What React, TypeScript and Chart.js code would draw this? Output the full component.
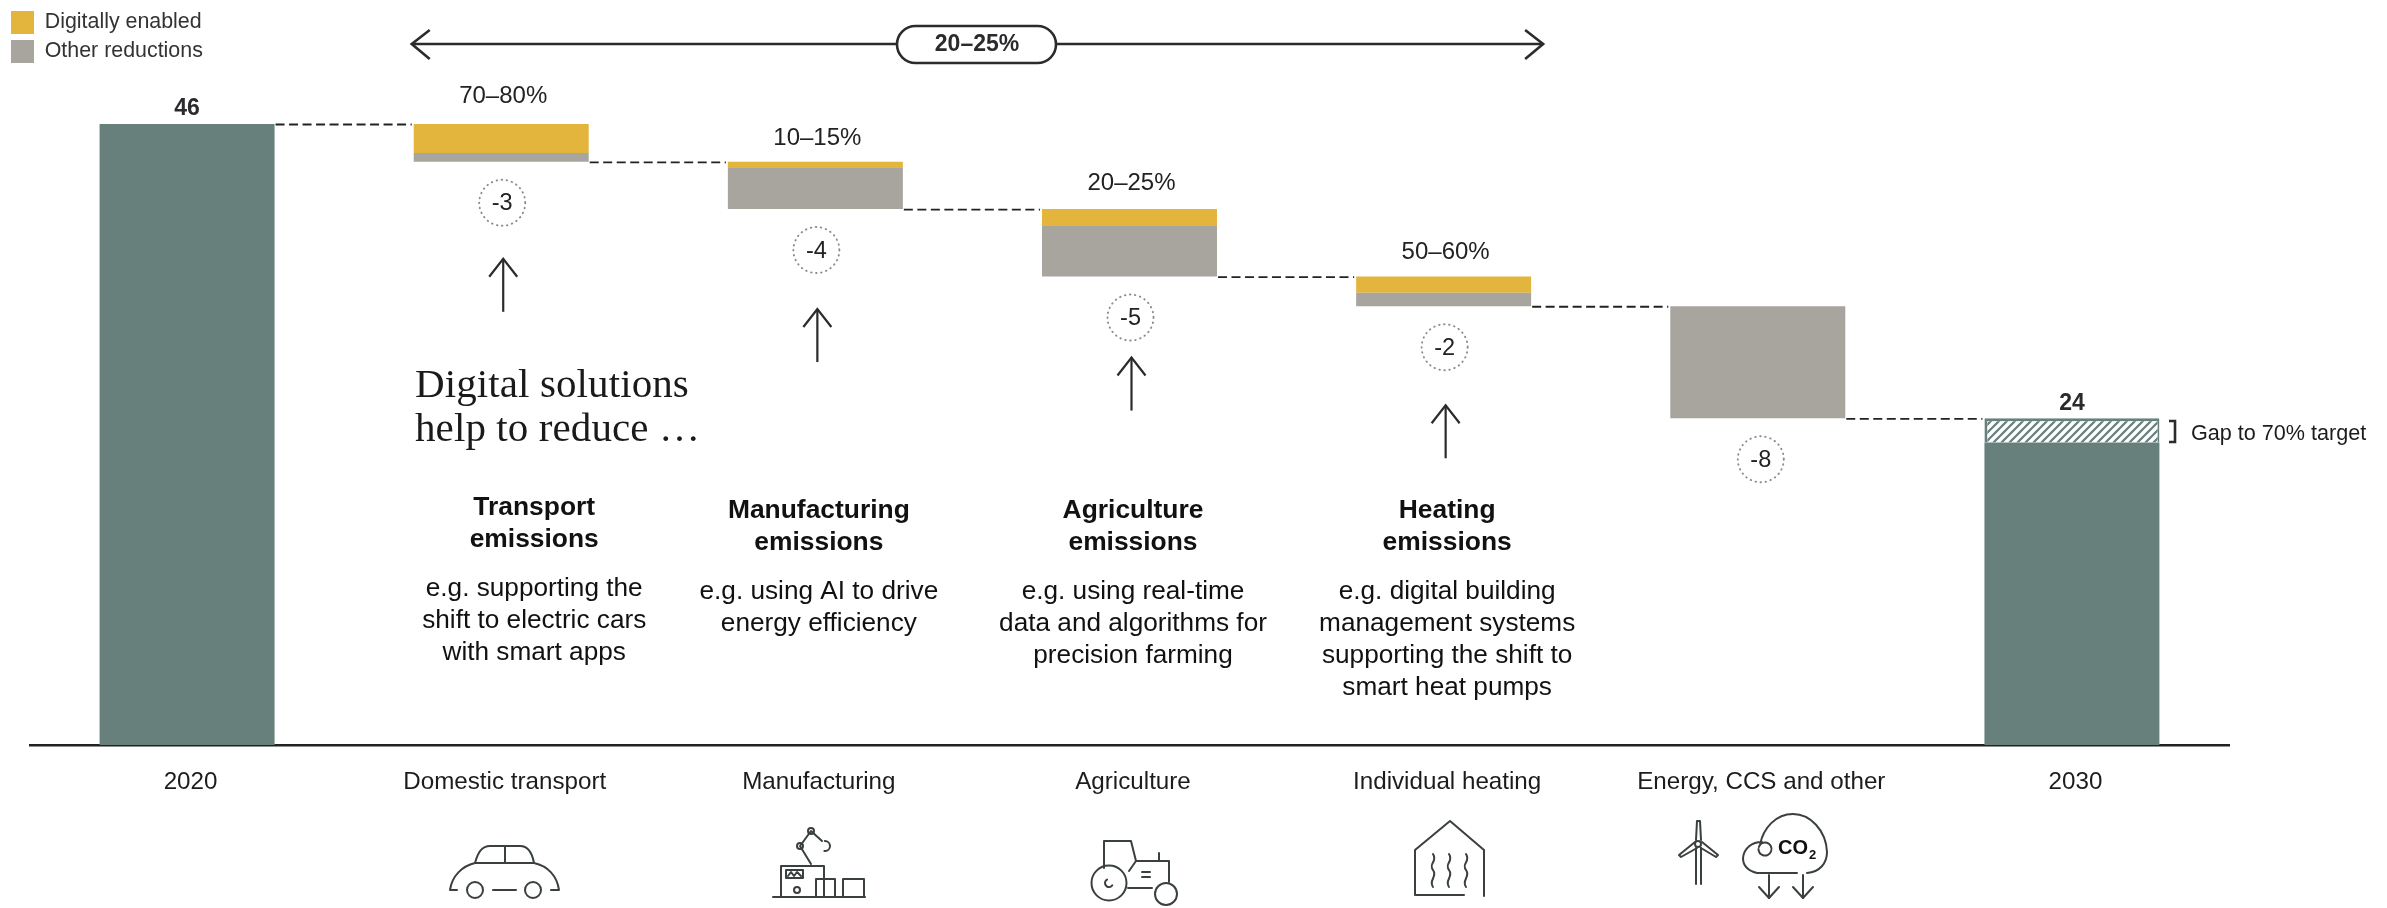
import React, { useEffect, useRef } from "react";
import { Chart, registerables } from "chart.js";

Chart.register(...registerables);

const categories = ["2020", "Domestic transport", "Manufacturing", "Agriculture", "Individual heating", "Energy, CCS and other", "2030"];
const totalValues = [46, null, null, null, null, null, 22.4];
const gapValues = [null, null, null, null, null, null, 1.8];
const baseValues = [null, 43.2, 39.7, 34.7, 32.5, 24.2, null];
const otherValues = [null, 0.65, 3.1, 3.8, 1.0, 8.3, null];
const digitalValues = [null, 2.15, 0.4, 1.2, 1.2, null, null];
const endLabels = ["46", "", "", "", "", "", "24"];
const shareLabels = ["", "70–80%", "10–15%", "20–25%", "50–60%", "", ""];
const deltaLabels = ["", "-3", "-4", "-5", "-2", "-8", ""];
const sectorTitles = [
  ["Transport", "emissions"],
  ["Manufacturing", "emissions"],
  ["Agriculture", "emissions"],
  ["Heating", "emissions"],
];
const sectorBodies = [
  ["e.g. supporting the", "shift to electric cars", "with smart apps"],
  ["e.g. using AI to drive", "energy efficiency"],
  ["e.g. using real-time", "data and algorithms for", "precision farming"],
  ["e.g. digital building", "management systems", "supporting the shift to", "smart heat pumps"],
];
const rangeLabel = "20–25%";
const gapLabel = "Gap to 70% target";
const introLines = ["Digital solutions", "help to reduce …"];

const TEAL = "#67807c";
const YELLOW = "#e4b53c";
const GREY = "#a8a59f";
const INK = "#2b2b2e";
const SANS = '"Liberation Sans", Arial, sans-serif';
const SERIF = '"Liberation Serif", serif';
const shareLift = [0, 28, 23, 26, 24, 0, 0];
const arrowDrop = [0, 97, 100, 81, 99, 0, 0];

function makeHatch() {
  const c = document.createElement("canvas");
  c.width = 8;
  c.height = 8;
  const g = c.getContext("2d")!;
  g.fillStyle = TEAL;
  g.fillRect(0, 0, 8, 8);
  g.strokeStyle = "#ffffff";
  g.lineWidth = 3.4;
  g.beginPath();
  g.moveTo(-2, 10);
  g.lineTo(10, -2);
  g.moveTo(-6, 6);
  g.lineTo(6, -6);
  g.moveTo(2, 14);
  g.lineTo(14, 2);
  g.stroke();
  return g.createPattern(c, "repeat")!;
}

function text(ctx: CanvasRenderingContext2D, s: string, x: number, y: number, font: string, align: CanvasTextAlign = "center", color = "#1c1c1e") {
  ctx.font = font;
  ctx.textAlign = align;
  ctx.textBaseline = "middle";
  ctx.fillStyle = color;
  ctx.fillText(s, x, y);
}

function line(ctx: CanvasRenderingContext2D, pts: number[][]) {
  ctx.beginPath();
  pts.forEach((p, i) => (i ? ctx.lineTo(p[0], p[1]) : ctx.moveTo(p[0], p[1])));
  ctx.stroke();
}

function circle(ctx: CanvasRenderingContext2D, x: number, y: number, r: number) {
  ctx.beginPath();
  ctx.arc(x, y, r, 0, Math.PI * 2);
  ctx.stroke();
}

function upArrow(ctx: CanvasRenderingContext2D, x: number, top: number, bottom: number) {
  ctx.strokeStyle = INK;
  ctx.lineWidth = 2.2;
  line(ctx, [[x, top], [x, bottom]]);
  line(ctx, [[x - 14, top + 18], [x, top], [x + 14, top + 18]]);
}

function drawIcons(ctx: CanvasRenderingContext2D) {
  ctx.save();
  ctx.strokeStyle = "#3a3f40";
  ctx.lineWidth = 2;
  ctx.lineCap = "round";
  ctx.lineJoin = "round";

  // car
  circle(ctx, 475, 890, 8);
  circle(ctx, 533, 890, 8);
  line(ctx, [[493, 890], [516, 890]]);
  line(ctx, [[505, 846], [505, 863]]);
  ctx.beginPath();
  ctx.moveTo(457, 890);
  ctx.lineTo(450, 890);
  ctx.bezierCurveTo(452, 876, 462, 866, 475, 863);
  ctx.lineTo(534, 863);
  ctx.bezierCurveTo(548, 866, 557, 876, 559, 890);
  ctx.lineTo(551, 890);
  ctx.moveTo(475, 863);
  ctx.bezierCurveTo(478, 852, 482, 846, 490, 846);
  ctx.lineTo(520, 846);
  ctx.bezierCurveTo(528, 846, 532, 852, 534, 863);
  ctx.stroke();

  // robot
  line(ctx, [[773, 897], [865, 897]]);
  line(ctx, [[781, 897], [781, 866], [824, 866], [824, 897]]);
  ctx.strokeRect(786, 870, 17, 8);
  line(ctx, [[788, 876], [791, 872], [794, 876], [797, 872], [801, 876]]);
  circle(ctx, 797, 890, 3);
  ctx.strokeRect(816, 879, 19, 18);
  ctx.strokeRect(843, 879, 21, 18);
  line(ctx, [[811, 864], [800, 846], [811, 831], [822, 841]]);
  circle(ctx, 800, 846, 3);
  circle(ctx, 811, 831, 3);
  ctx.beginPath();
  ctx.arc(825, 846, 5, -1.6, 1.7);
  ctx.stroke();

  // tractor
  circle(ctx, 1109, 883, 17.5);
  circle(ctx, 1166, 894, 11);
  ctx.beginPath();
  ctx.arc(1109, 883, 4, 0.6, 4.2);
  ctx.stroke();
  line(ctx, [[1104, 868], [1104, 841], [1131, 841], [1136, 861], [1169, 861], [1169, 882]]);
  line(ctx, [[1136, 861], [1129, 871]]);
  line(ctx, [[1159, 853], [1159, 861]]);
  line(ctx, [[1128, 888], [1152, 888]]);
  line(ctx, [[1142, 872], [1150, 872]]);
  line(ctx, [[1142, 877], [1150, 877]]);

  // house
  line(ctx, [[1464, 895], [1415, 895], [1415, 850], [1450, 821], [1484, 850], [1484, 896]]);
  [1433, 1449, 1466].forEach((x) => {
    ctx.beginPath();
    ctx.moveTo(x, 854);
    ctx.bezierCurveTo(x + 5, 862, x - 5, 863, x, 870);
    ctx.bezierCurveTo(x + 5, 877, x - 5, 880, x, 887);
    ctx.stroke();
  });

  // turbine
  line(ctx, [[1696, 848], [1696, 884]]);
  line(ctx, [[1701, 848], [1701, 884]]);
  line(ctx, [[1696, 840], [1697, 821], [1700, 821], [1701, 840]]);
  line(ctx, [[1695, 842], [1679, 855], [1681, 857], [1697, 848]]);
  line(ctx, [[1702, 842], [1718, 855], [1716, 857], [1701, 848]]);
  circle(ctx, 1698, 844, 3);

  // cloud
  ctx.beginPath();
  ctx.moveTo(1807, 873);
  ctx.bezierCurveTo(1820, 872, 1827, 863, 1827, 852);
  ctx.bezierCurveTo(1826, 830, 1810, 814, 1793, 814);
  ctx.bezierCurveTo(1776, 814, 1763, 828, 1760, 845);
  ctx.arc(1765, 849, 6.5, Math.PI * 1.1, Math.PI * 3.0);
  ctx.moveTo(1797, 873);
  ctx.lineTo(1757, 873);
  ctx.bezierCurveTo(1749, 871, 1743, 866, 1743, 858);
  ctx.bezierCurveTo(1744, 848, 1752, 842, 1762, 842);
  ctx.stroke();
  [1769, 1803].forEach((x) => {
    line(ctx, [[x, 875], [x, 898]]);
    line(ctx, [[x - 10, 887], [x, 898], [x + 10, 887]]);
  });
  text(ctx, "CO", 1778, 848, `bold 20px ${SANS}`, "left", "#111");
  text(ctx, "2", 1809, 855, `bold 13px ${SANS}`, "left", "#111");
  ctx.restore();
}

const annotations = {
  id: "annotations",
  afterLayout(chart: any) {
    chart.legend.left = 5;
    chart.legend.top = 5;
    chart.legend.right = 240;
  },
  afterDraw(chart: any) {
    const ctx: CanvasRenderingContext2D = chart.ctx;
    const { x: xs, y: ys } = chart.scales;
    const bars = chart.getDatasetMeta(0).data;
    const barW = bars[0].width;
    const cx = (i: number) => xs.getPixelForValue(i);
    const tops = categories.map((_, i) => (baseValues[i] ?? 0) + (otherValues[i] ?? 0) + (digitalValues[i] ?? 0) + (totalValues[i] ?? 0) + (gapValues[i] ?? 0));
    const bottoms = categories.map((_, i) => baseValues[i] ?? 0);

    ctx.save();
    // connectors
    ctx.strokeStyle = "#222";
    ctx.lineWidth = 1.8;
    ctx.setLineDash([9, 4.5]);
    for (let i = 0; i < categories.length - 1; i++) {
      const level = ys.getPixelForValue(tops[i + 1]) + 0.5;
      line(ctx, [[cx(i) + barW / 2 + 1, level], [cx(i + 1) - barW / 2 - 2, level]]);
    }
    ctx.setLineDash([]);

    // end values, shares and deltas
    categories.forEach((_, i) => {
      if (endLabels[i]) text(ctx, endLabels[i], cx(i), ys.getPixelForValue(tops[i]) - 15, `bold 23px ${SANS}`, "center", INK);
      if (shareLabels[i]) text(ctx, shareLabels[i], cx(i) + 2, ys.getPixelForValue(tops[i]) - shareLift[i], `24px ${SANS}`, "center", "#222");
      if (deltaLabels[i]) {
        const y = ys.getPixelForValue(bottoms[i]) + 41;
        const dx = i === 5 ? 3 : 1;
        ctx.strokeStyle = "#8c8c8c";
        ctx.lineWidth = 1.9;
        ctx.lineCap = "round";
        ctx.setLineDash([0.5, 4.6]);
        circle(ctx, cx(i) + dx, y, 23);
        ctx.setLineDash([]);
        ctx.lineCap = "butt";
        text(ctx, deltaLabels[i], cx(i) + dx, y + 1, `23.5px ${SANS}`, "center", "#222");
      }
    });

    // up arrows
    [1, 2, 3, 4].forEach((i) => {
      const top = ys.getPixelForValue(bottoms[i]) + arrowDrop[i];
      upArrow(ctx, cx(i) + 2, top, top + 53);
    });

    // range arrow and pill
    ctx.strokeStyle = INK;
    ctx.lineWidth = 2.6;
    const rangeL = cx(1) - barW / 2 - 2;
    const rangeR = cx(4) + barW / 2 + 12;
    line(ctx, [[rangeL, 44], [rangeR, 44]]);
    line(ctx, [[rangeL + 18, 30], [rangeL, 44], [rangeL + 18, 59]]);
    line(ctx, [[rangeR - 18, 30], [rangeR, 44], [rangeR - 18, 59]]);
    ctx.beginPath();
    ctx.roundRect(897, 26, 159, 37, 18.5);
    ctx.fillStyle = "#fff";
    ctx.fill();
    ctx.stroke();
    text(ctx, rangeLabel, 977, 45, `bold 23px ${SANS}`, "center", INK);

    // gap bracket
    line(ctx, [[2169, 421], [2175, 421], [2175, 442], [2169, 442]]);
    text(ctx, gapLabel, 2191, 434, `21.6px ${SANS}`, "left", "#1c1c1e");

    // intro
    ctx.save();
    (ctx as any).letterSpacing = "0.1px";
    text(ctx, introLines[0], 415, 386, `41px ${SERIF}`, "left", "#1a1a1a");
    text(ctx, introLines[1], 415, 430, `41px ${SERIF}`, "left", "#1a1a1a");
    ctx.restore();

    // sector copy
    sectorTitles.forEach((title, k) => {
      const x = cx(k + 1) + (k === 0 ? 33 : 3.5);
      const y0 = k === 0 ? 508 : 511;
      title.forEach((t, j) => text(ctx, t, x, y0 + j * 32, `bold 26.4px ${SANS}`, "center", "#111"));
      sectorBodies[k].forEach((t, j) => text(ctx, t, x, y0 + 80.5 + j * 32, `26.2px ${SANS}`, "center", "#111"));
    });

    drawIcons(ctx);
    ctx.restore();
  },
};

export default function App() {
  const ref = useRef<HTMLCanvasElement>(null);
  useEffect(() => {
    const hatch = makeHatch();
    const common = { categoryPercentage: 1, barPercentage: 0.557, stack: "s", borderWidth: 0 };
    const chart = new Chart(ref.current!, {
      type: "bar",
      data: {
        labels: categories,
        datasets: [
          { ...common, label: "Total", data: totalValues, backgroundColor: TEAL },
          { ...common, label: "Gap", data: gapValues, backgroundColor: hatch, borderColor: TEAL, borderSkipped: false, borderWidth: { top: 3, left: 3, right: 2, bottom: 0 } },
          { ...common, label: "Base", data: baseValues, backgroundColor: "rgba(0,0,0,0)" },
          { ...common, label: "Other reductions", data: otherValues, backgroundColor: GREY },
          { ...common, label: "Digitally enabled", data: digitalValues, backgroundColor: YELLOW },
        ] as any,
      },
      options: {
        animation: false,
        responsive: false,
        layout: { padding: { top: 70, left: 30, right: 158, bottom: 0 } },
        plugins: {
          tooltip: { enabled: false },
          title: { display: false },
          legend: {
            position: "chartArea" as any,
            align: "start",
            labels: {
              boxWidth: 23,
              boxHeight: 23,
              padding: 6,
              color: "#333",
              font: { family: "Liberation Sans", size: 21.4 },
              filter: (item: any) => item.text === "Digitally enabled" || item.text === "Other reductions",
              sort: (a: any, b: any) => b.datasetIndex - a.datasetIndex,
            },
          },
        },
        scales: {
          x: {
            stacked: true,
            grid: { display: false, drawTicks: false },
            border: { display: true, color: "#222", width: 2.5 },
            ticks: {
              autoSkip: false,
              maxRotation: 0,
              padding: 23,
              labelOffset: 3.5,
              color: "#1c1c1e",
              font: { family: "Liberation Sans", size: 24.2 },
            },
            afterFit: (s: any) => { s.height = 163; },
          },
          y: { stacked: true, display: false, min: 0, max: 50 },
        },
      },
      plugins: [annotations],
    });
    return () => chart.destroy();
  }, []);
  return (
    <div style={{ position: "absolute", left: 0, top: 0, width: 2387, height: 908, background: "#fff", overflow: "hidden" }}>
      <canvas ref={ref} width={2387} height={908} style={{ display: "block" }} />
    </div>
  );
}
